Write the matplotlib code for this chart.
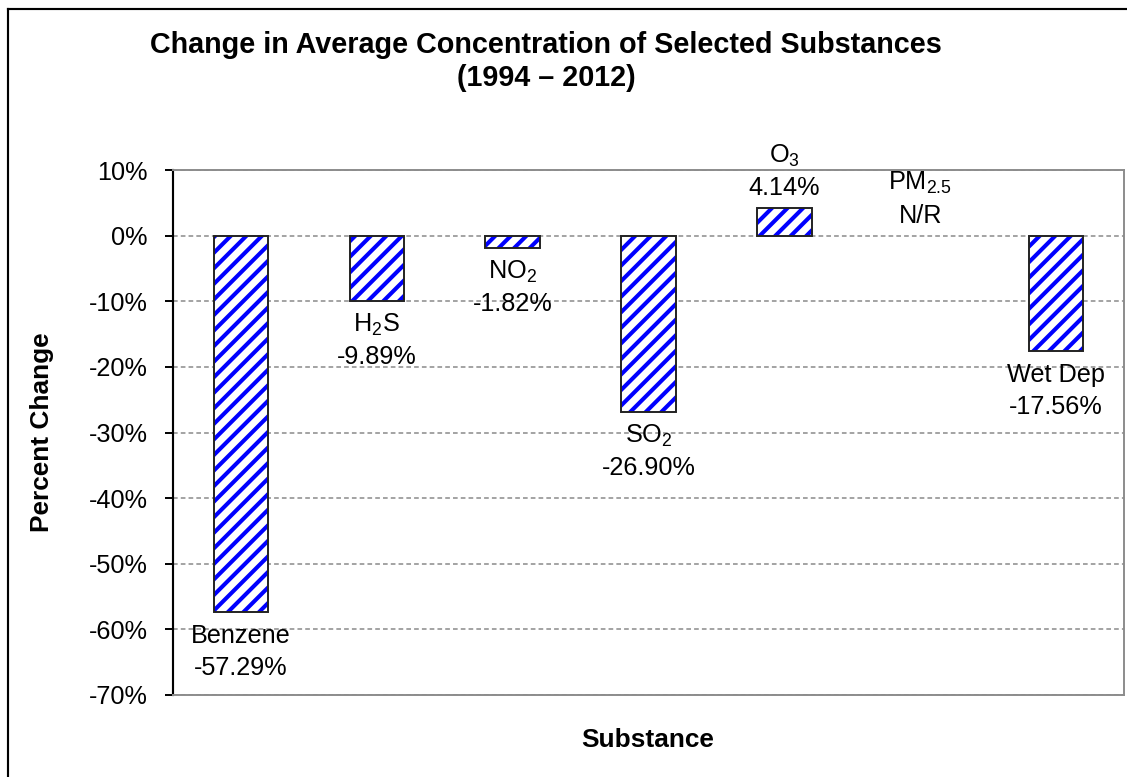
import matplotlib
matplotlib.use("Agg")
import matplotlib.pyplot as plt
from matplotlib.lines import Line2D
import numpy as np

# Percent change in average concentration, 1994 - 2012
substances = ["Benzene", "H$_2$S", "NO$_2$", "SO$_2$", "O$_3$", "PM$_{2.5}$", "Wet Dep"]
pct_change = [-57.29, -9.89, -1.82, -26.90, 4.14, None, -17.56]
value_text = ["-57.29%", "-9.89%", "-1.82%", "-26.90%", "4.14%", "N/R", "-17.56%"]
y_ticks = [10, 0, -10, -20, -30, -40, -50, -60, -70]

plt.rcParams["font.family"] = ["Liberation Sans", "DejaVu Sans"]
plt.rcParams["mathtext.fontset"] = "custom"
plt.rcParams["mathtext.rm"] = "Liberation Sans"
plt.rcParams["mathtext.it"] = "Liberation Sans"
plt.rcParams["hatch.linewidth"] = 2.1

DPI = 140
fig = plt.figure(figsize=(1127 / DPI, 777 / DPI), dpi=DPI)
ax = fig.add_axes([173 / 1127, 1 - 695 / 777, (1124 - 173) / 1127, (695 - 170) / 777])

x = np.arange(len(substances))
heights = np.array([v if v is not None else 0.0 for v in pct_change])
has_val = np.array([v is not None for v in pct_change])

# hatched fill first, then a plain black outline on top
ax.bar(x[has_val], heights[has_val], width=0.40, color="white",
       edgecolor="#0000FF", hatch="///", linewidth=0, zorder=3)
ax.bar(x[has_val], heights[has_val], width=0.40, fill=False,
       edgecolor="#222222", linewidth=1.0, zorder=4)

# two-line data labels: name and value, outside the bar end
px = 72 / DPI
for xi, name, val, txt in zip(x, substances, heights, value_text):
    if val < 0:
        off_name, off_val = -31 * px, -63 * px
    else:
        off_val, off_name = 13 * px, 46 * px
    ax.annotate(name, (xi, val), xytext=(0, off_name), textcoords="offset points",
                ha="center", va="baseline", fontsize=13, zorder=5)
    ax.annotate(txt, (xi, val), xytext=(0, off_val), textcoords="offset points",
                ha="center", va="baseline", fontsize=13, zorder=5)

ax.set_xlim(-0.5, len(substances) - 0.5)
ax.set_ylim(-70, 10)
ax.set_yticks(y_ticks)
ax.set_yticklabels([f"{t}%" for t in y_ticks])
ax.set_xticks([])
ax.tick_params(axis="y", direction="out", length=4, width=1, pad=9, labelsize=13)

ax.yaxis.grid(True, color="#8c8c8c", linestyle=(0, (3, 2)), linewidth=0.8)
ax.set_axisbelow(True)

ax.spines["left"].set_color("black")
ax.spines["left"].set_linewidth(1.1)
for side in ["top", "right", "bottom"]:
    ax.spines[side].set_color("#8c8c8c")
    ax.spines[side].set_linewidth(1.0)

fig.text(546 / 1127, 1 - 45 / 777, "Change in Average Concentration of Selected Substances",
         ha="center", va="center", fontsize=14.8, fontweight="bold")
fig.text(546 / 1127, 1 - 78 / 777, "(1994 \u2013 2012)",
         ha="center", va="center", fontsize=14.8, fontweight="bold")
fig.text(42 / 1127, 1 - 432 / 777, "Percent Change", rotation=90,
         ha="center", va="center", fontsize=13.5, fontweight="bold")
fig.text(648 / 1127, 1 - 740 / 777, "Substance",
         ha="center", va="center", fontsize=13.5, fontweight="bold")

# chart border (left and top edges)
fig.add_artist(Line2D([8 / 1127, 8 / 1127], [0, 1 - 9 / 777], color="black", linewidth=1.1))
fig.add_artist(Line2D([8 / 1127, 1], [1 - 9 / 777, 1 - 9 / 777], color="black", linewidth=1.1))

fig.savefig("out.png", dpi=DPI)
